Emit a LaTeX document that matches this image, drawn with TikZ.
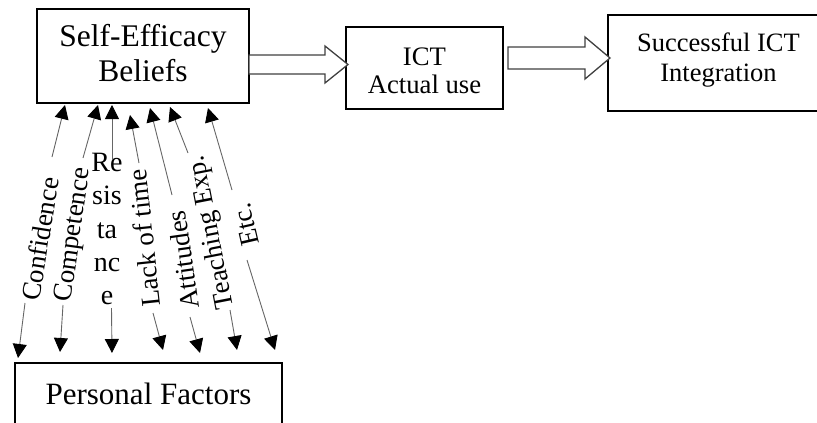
\documentclass[tikz,border=0pt]{standalone}
\usepackage{fontspec}
\setmainfont{Liberation Serif}
\usetikzlibrary{arrows.meta}
\begin{document}
\begin{tikzpicture}[x=1pt,y=-1pt,
  box/.style={draw=black, line width=1.3pt, inner sep=0pt, align=center},
  conn/.style={draw=black!60, line width=0.9pt},
  tipA/.style={-{Triangle[length=14pt,width=14pt,color=black,fill=black]}},
  lbl/.style={inner sep=0pt, font=\fontsize{27}{29}\selectfont},
  blockarrow/.style={draw=black!75, line width=1.3pt, fill=white, line join=miter}]
\useasboundingbox (0,0) rectangle (817,423);
% boxes
\node[box, minimum width=212pt, minimum height=94pt, text depth=7pt,
      font=\fontsize{31.5}{35}\selectfont] (se) at (143,56) {Self-Efficacy\\Beliefs};
\node[box, minimum width=157pt, minimum height=82pt, text height=52pt,
      font=\fontsize{26.7}{28}\selectfont] (ict) at (424.5,68) {ICT\\Actual use};
\node[box, minimum width=221pt, minimum height=96pt, text depth=11pt,
      font=\fontsize{26.5}{30}\selectfont] (sic) at (718.5,63) {Successful ICT\\Integration};
\node[box, line width=1.8pt, minimum width=267pt, minimum height=62pt,
      font=\fontsize{31}{35}\selectfont] (pf) at (148.5,394) {Personal Factors};
% block arrows
\draw[blockarrow] (249,55) -- (325,55) -- (325,46) -- (348,64.5) -- (325,83) -- (325,74) -- (249,74) -- cycle;
\draw[blockarrow] (508,47) -- (585,47) -- (585,37) -- (610,58) -- (585,79) -- (585,69) -- (508,69) -- cycle;
% labels
\node[lbl, rotate=81] (l1) at (40,239) {Confidence};
\node[lbl, rotate=82] (l2) at (74,235) {Competence};
\node[inner sep=0pt, align=center, font=\fontsize{28}{33.3}\selectfont] (l3) at (107,229) {Re\\sis\\ta\\nc\\e};
\node[lbl, rotate=96] (l4) at (144,238) {Lack of time};
\node[lbl, rotate=98] (l5) at (183,260) {Attitudes};
\node[lbl, rotate=101] (l6) at (212,232) {Teaching Exp.};
\node[lbl, rotate=103] (l7) at (246,225) {Etc.};
% connector end points
\coordinate (t1) at (65,105);  \coordinate (u1) at (52,157);  \coordinate (v1) at (25,303);  \coordinate (b1) at (18,358);
\coordinate (t2) at (98,105);  \coordinate (u2) at (83,158);  \coordinate (v2) at (63,305);  \coordinate (b2) at (60,352);
\coordinate (t3) at (112,105); \coordinate (u3) at (112,160); \coordinate (v3) at (111.5,308); \coordinate (b3) at (112,353);
\coordinate (t4) at (130,115); \coordinate (u4) at (139,163); \coordinate (v4) at (153,313); \coordinate (b4) at (163,350);
\coordinate (t5) at (150,108); \coordinate (u5) at (172,195); \coordinate (v5) at (190,317); \coordinate (b5) at (200,353);
\coordinate (t6) at (170,107); \coordinate (u6) at (188,153); \coordinate (v6) at (230,310); \coordinate (b6) at (237,350);
\coordinate (t7) at (208,108); \coordinate (u7) at (232,190); \coordinate (v7) at (247,260); \coordinate (b7) at (275,350);
\foreach \i in {1,...,7}{
  \draw[conn, tipA] (u\i) -- (t\i);
  \draw[conn, tipA] (v\i) -- (b\i);
}
\end{tikzpicture}
\end{document}
